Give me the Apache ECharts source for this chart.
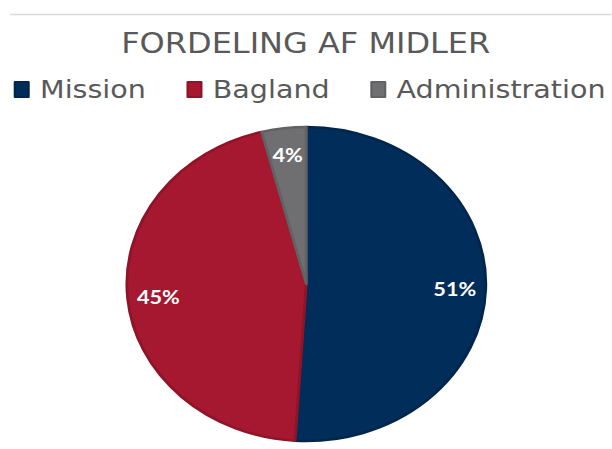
<!DOCTYPE html>
<html>
<head>
<meta charset="utf-8">
<script src="https://cdn.jsdelivr.net/npm/echarts@6/dist/echarts.min.js"></script>
<style>
  html, body { margin: 0; padding: 0; background: #fff; overflow: hidden; }
  /* the pie in the original is an ellipse, so the whole chart is stretched sideways */
  #chart { position: absolute; left: 0; top: 0; height: 449px; transform-origin: 0 0; }
</style>
</head>
<body>
<div id="chart"></div>
<script>
const categories = ["Mission", "Bagland", "Administration"];
const shares = [51, 45, 4];
const colors = ["#012d5b", "#a51830", "#6f6f71"];
const borderColors = ["#00264d", "#8e1428", "#626264"];

const stretch = 1.143;
const el = document.getElementById("chart");
el.style.width = (612 / stretch) + "px";
el.style.transform = "scaleX(" + stretch + ")";

const chart = echarts.init(el, null, { renderer: "svg" });

const pieData = categories.map((name, i) => ({
  name: name,
  value: shares[i],
  itemStyle: { color: colors[i], borderColor: borderColors[i] }
}));

chart.setOption({
  animation: false,
  title: {
    text: "FORDELING AF MIDLER",
    left: "center",
    top: 24,
    textStyle: { fontFamily: "DejaVu Sans", fontSize: 28, fontWeight: "normal", color: "#595959" }
  },
  legend: {
    data: categories,
    left: 12,
    top: 77,
    padding: 0,
    width: 560,
    icon: "rect",
    itemWidth: 12,
    itemHeight: 15,
    itemGap: 35.5,
    textStyle: { fontFamily: "DejaVu Sans", fontSize: 25, color: "#595959", padding: [0, 0, 0, 5] }
  },
  graphic: [{
    type: "line",
    shape: { x1: 9, y1: 14.5, x2: 540, y2: 14.5 },
    style: { stroke: "#d9d9d9", lineWidth: 1.5 },
    silent: true
  }],
  series: [
    {
      name: "Fordeling",
      type: "pie",
      center: [268, 284],
      radius: 157,
      startAngle: 90,
      clockwise: true,
      label: { show: false },
      labelLine: { show: false },
      itemStyle: { borderWidth: 2.5 },
      emphasis: { scale: false },
      data: pieData
    },
    {
      // invisible ring, only used to place the percentage labels further out
      name: "Labels",
      type: "pie",
      center: [268, 284],
      radius: [110, 144],
      startAngle: 90,
      clockwise: true,
      silent: true,
      itemStyle: { color: "rgba(0,0,0,0)" },
      label: {
        show: true,
        position: "inside",
        formatter: "{c}%",
        color: "#ffffff",
        fontFamily: "Lato",
        fontWeight: "bold",
        fontSize: 19
      },
      labelLine: { show: false },
      data: categories.map((name, i) => ({ name: name, value: shares[i] }))
    }
  ]
});
</script>
</body>
</html>
